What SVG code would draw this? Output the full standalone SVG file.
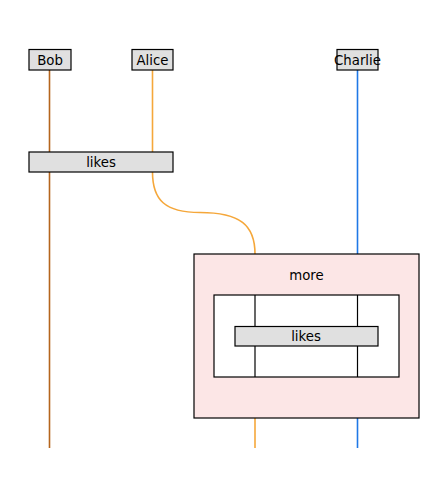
<svg xmlns="http://www.w3.org/2000/svg" width="448" height="499" viewBox="0 0 448 499">
<style>
.box{fill:#e0e0e0;stroke:#000;stroke-width:1.2}
.t{font-family:"DejaVu Sans",sans-serif;font-size:13.3px;fill:#000;text-anchor:middle;dominant-baseline:central}
.ln{fill:none;stroke-width:1.6}
.k{fill:none;stroke:#000;stroke-width:1.2}
</style>
<rect width="448" height="499" fill="#fff"/>
<g id="connectors">
<line class="ln" x1="49.5" y1="70" x2="49.5" y2="448" stroke="#b5651d"/>
<line class="ln" x1="152.5" y1="70" x2="152.5" y2="152" stroke="#f5a73a"/>
<path class="ln" d="M152.5,172 C152.5,200 165,212.5 200,212.5 C240,212.5 255,225 255,254" stroke="#f5a73a"/>
<line class="ln" x1="255" y1="418" x2="255" y2="448" stroke="#f5a73a"/>
<line class="ln" x1="357.5" y1="70" x2="357.5" y2="254" stroke="#1f78e6"/>
<line class="ln" x1="357.5" y1="418" x2="357.5" y2="448" stroke="#1f78e6"/>
</g>
<g id="Bob"><rect class="box" x="29" y="49.5" width="42" height="20.5"/><text class="t" x="50" y="60">Bob</text></g>
<g id="Alice"><rect class="box" x="132" y="49.5" width="41" height="20.5"/><text class="t" x="152.5" y="60">Alice</text></g>
<g id="Charlie"><rect class="box" x="337" y="49.5" width="41" height="20.5"/><text class="t" x="357.5" y="60">Charlie</text></g>
<g id="likes1"><rect class="box" x="29" y="152" width="144" height="20"/><text class="t" x="101" y="162">likes</text></g>
<g id="more">
<rect x="194" y="254" width="225" height="164" fill="#fce6e6" stroke="#000" stroke-width="1.2"/>
<text class="t" x="306.5" y="275">more</text>
<rect x="214" y="295" width="185" height="82" fill="#fff" stroke="#000" stroke-width="1.2"/>
<line class="k" x1="255" y1="295" x2="255" y2="377"/>
<line class="k" x1="357.5" y1="295" x2="357.5" y2="377"/>
</g>
<g id="likes2"><rect class="box" x="235" y="326.5" width="143" height="19.5"/><text class="t" x="306" y="336.5">likes</text></g>
</svg>
